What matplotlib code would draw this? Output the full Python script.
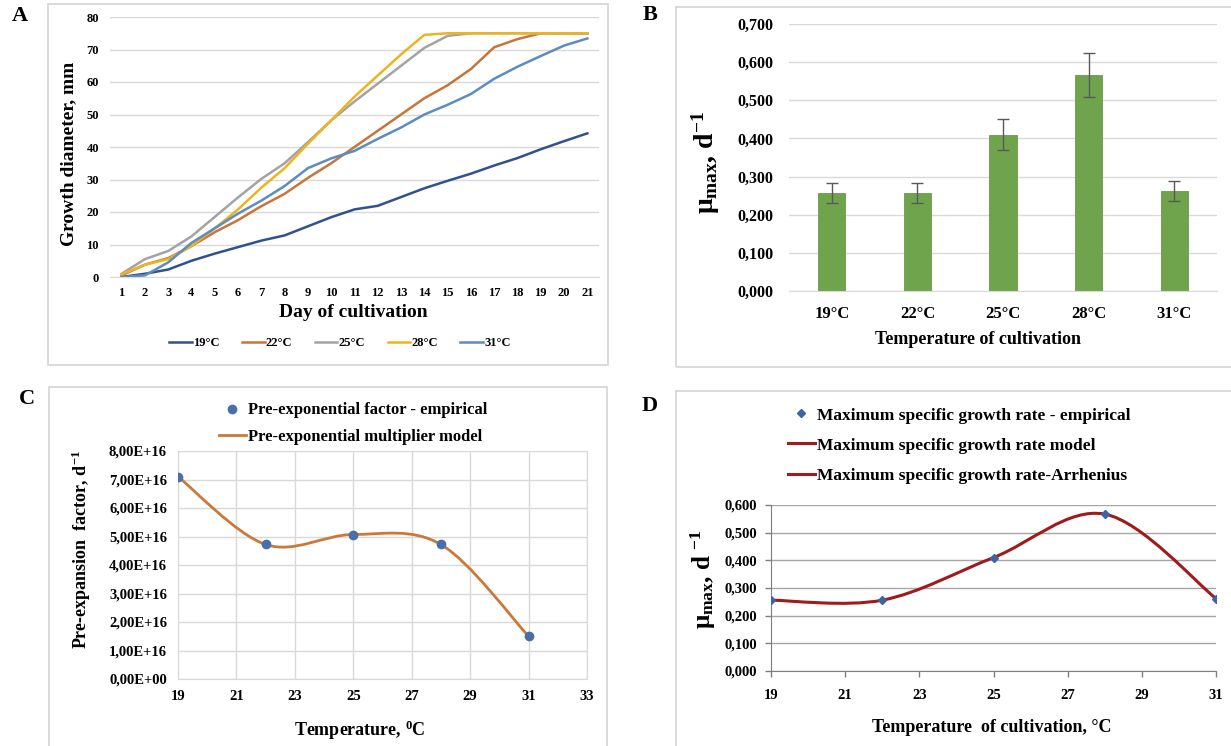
import numpy as np
import matplotlib
matplotlib.use('Agg')
import matplotlib.pyplot as plt
from matplotlib.path import Path
from matplotlib.patches import PathPatch, Rectangle
from matplotlib.lines import Line2D
from matplotlib.ticker import FuncFormatter, MultipleLocator

plt.rcParams['font.family'] = ['Liberation Serif', 'DejaVu Serif']
plt.rcParams['font.weight'] = 'bold'
plt.rcParams['mathtext.fontset'] = 'custom'
plt.rcParams['mathtext.rm'] = 'Liberation Serif:bold'
plt.rcParams['mathtext.it'] = 'Liberation Serif:bold'
plt.rcParams['mathtext.bf'] = 'Liberation Serif:bold'

# A: growth diameter by day
days = list(range(1, 22))
growth = {
    '19°C': [0, 1, 2.3, 5, 7.2, 9.2, 11.2, 12.8, 15.6, 18.4, 20.8, 21.9, 24.6, 27.3, 29.6, 31.8, 34.3, 36.6, 39.3, 41.8, 44.2],
    '22°C': [0.5, 3.8, 5.8, 9.5, 13.8, 17.5, 21.8, 25.6, 30.5, 35, 40, 45, 50, 55, 59, 64, 70.7, 73.2, 75, 75, 75],
    '25°C': [1, 5.5, 8, 12.5, 18.5, 24.5, 30.2, 35, 41.5, 48.2, 54, 59.5, 65, 70.5, 74.2, 75, 75, 75, 75, 75, 75],
    '28°C': [0.8, 3.8, 5.5, 9.5, 15, 20.8, 27.5, 33.5, 41, 48.2, 55.5, 62, 68.5, 74.5, 75, 75, 75, 75, 75, 75, 75],
    '31°C': [0, 0.5, 4.5, 10.5, 15, 19.5, 23.5, 28, 33.5, 36.5, 38.8, 42.5, 46, 50, 53, 56.3, 61, 64.7, 68, 71.2, 73.4],
}
growth_colors = ['#2F528F', '#C8743A', '#A3A3A3', '#EDB321', '#5B8DC0']

# B: mu max bars
temp_labels = ['19°C', '22°C', '25°C', '28°C', '31°C']
mu_max = [0.257, 0.257, 0.410, 0.567, 0.262]
mu_err = [0.026, 0.026, 0.041, 0.058, 0.027]

# C: pre-exponential factor
temps = [19, 22, 25, 28, 31]
pre_exp = [7.1e16, 4.72e16, 5.07e16, 4.72e16, 1.5e16]
c_ticks = [19, 21, 23, 25, 27, 29, 31, 33]

# D: mu max vs temperature
mu_emp = [0.256, 0.256, 0.410, 0.567, 0.262]
d_ticks = [19, 21, 23, 25, 27, 29, 31]

W, H = 1231, 746
fig = plt.figure(figsize=(W / 100, H / 100), dpi=100)


def place(l, t, r, b):
    return fig.add_axes([l / W, 1 - b / H, (r - l) / W, (b - t) / H])


def frame(l, t, r, b):
    fig.add_artist(Rectangle((l / W, 1 - b / H), (r - l) / W, (b - t) / H,
                             transform=fig.transFigure, fill=False,
                             edgecolor='#d4d4d4', lw=1.2))


def smooth(ax, xs, ys, **kw):
    # Excel-like smoothed line as cubic bezier segments
    p = np.column_stack([xs, ys]).astype(float)
    n = len(p)
    verts, codes = [tuple(p[0])], [Path.MOVETO]
    for i in range(n - 1):
        p0 = p[i - 1] if i > 0 else p[i]
        p3 = p[i + 2] if i + 2 < n else p[i + 1]
        c1 = p[i] + (p[i + 1] - p0) / 6
        c2 = p[i + 1] - (p3 - p[i]) / 6
        verts += [tuple(c1), tuple(c2), tuple(p[i + 1])]
        codes += [Path.CURVE4] * 3
    ax.add_patch(PathPatch(Path(verts, codes), fill=False, **kw))


def comma(fmt):
    return FuncFormatter(lambda v, pos: format(v, fmt).replace('.', ','))


def plain(ax):
    for s in ax.spines.values():
        s.set_visible(False)
    ax.tick_params(length=0)


def labels_at(ax, xl, yl):
    # xl: (center x, top y) of x label; yl: (right x, center y) of y label, in pixels
    ax.xaxis.set_label_coords(xl[0] / W, 1 - xl[1] / H, transform=fig.transFigure)
    ax.yaxis.set_label_coords(yl[0] / W, 1 - yl[1] / H, transform=fig.transFigure)


frame(48, 4, 608, 365)
frame(676, 7, 1240, 367)
frame(49, 387, 607, 760)
frame(676, 391, 1240, 760)

for txt, x, y in [('A', 20, 16), ('B', 650, 15), ('C', 27, 399), ('D', 650, 406)]:
    fig.text(x / W, 1 - y / H, txt, fontsize=16, fontweight='bold', ha='center', va='center')

# ---- A
ax = place(110, 17, 599, 277)
for (lab, vals), c in zip(growth.items(), growth_colors):
    ax.plot(days, vals, color=c, lw=1.8, label=lab)
ax.set_xlim(0.5, 21.5)
ax.set_ylim(0, 80)
ax.set_xticks(days)
ax.yaxis.set_major_locator(MultipleLocator(10))
ax.grid(axis='y', color='#d9d9d9', lw=1)
ax.set_axisbelow(True)
plain(ax)
ax.spines['bottom'].set_visible(True)
ax.spines['bottom'].set_color('#d9d9d9')
ax.tick_params(axis='y', labelsize=9, pad=8)
ax.tick_params(axis='x', labelsize=9, pad=7)
ax.set_xlabel('Day of cultivation', fontsize=14, fontweight='bold')
ax.set_ylabel('Growth diameter, mm', fontsize=14, fontweight='bold')
labels_at(ax, (353, 304), (77, 154))
ax.legend(loc='center', bbox_to_anchor=(340 / W, 1 - 343 / H), bbox_transform=fig.transFigure,
          ncol=5, frameon=False, fontsize=9, handlelength=1.8, handletextpad=0.1,
          columnspacing=1.8, borderpad=0)

# ---- B
ax = place(789, 24, 1217, 291)
xb = np.arange(len(temp_labels))
ax.bar(xb, mu_max, width=0.32, color='#70A44C', edgecolor='#6A9A48', lw=0.6,
       yerr=mu_err, error_kw=dict(ecolor='#595959', elinewidth=1, capsize=4, capthick=1))
ax.set_xlim(-0.5, 4.5)
ax.set_ylim(0, 0.7)
ax.set_xticks(xb, temp_labels)
ax.yaxis.set_major_locator(MultipleLocator(0.1))
ax.yaxis.set_major_formatter(comma('.3f'))
ax.grid(axis='y', color='#d9d9d9', lw=1)
ax.set_axisbelow(True)
plain(ax)
ax.spines['bottom'].set_visible(True)
ax.spines['bottom'].set_color('#d9d9d9')
ax.tick_params(axis='y', labelsize=11.5, pad=11)
ax.tick_params(axis='x', labelsize=12, pad=11)
ax.set_xlabel('Temperature of cultivation', fontsize=13, fontweight='bold')
ax.set_ylabel(r'$\mu_{max}$, d$^{-1}$', fontsize=20, fontweight='bold')
labels_at(ax, (978, 331), (722, 162))

# ---- C
ax = place(178, 451, 587, 679)
smooth(ax, temps, pre_exp, edgecolor='#C97A3A', lw=2, zorder=3)
ax.plot(temps, pre_exp, 'o', color='#4A6FA8', ms=6, zorder=4)
ax.set_xlim(19, 33)
ax.set_ylim(0, 8e16)
ax.set_xticks(c_ticks)
ax.yaxis.set_major_locator(MultipleLocator(1e16))
ax.yaxis.set_major_formatter(comma('.2E'))
ax.grid(True, color='#d9d9d9', lw=1)
ax.set_axisbelow(True)
for s in ax.spines.values():
    s.set_color('#d9d9d9')
ax.tick_params(length=0)
ax.tick_params(axis='y', labelsize=10.5, pad=8)
ax.tick_params(axis='x', labelsize=10.5, pad=8)
ax.set_xlabel('Temperature, $^{0}$C', fontsize=13, fontweight='bold')
ax.set_ylabel('Pre-expansion  factor, d$^{-1}$', fontsize=13, fontweight='bold')
labels_at(ax, (360, 719), (93, 549))
handles = [Line2D([], [], ls='none', marker='o', color='#4A6FA8', ms=6),
           Line2D([], [], color='#C97A3A', lw=2)]
ax.legend(handles, ['Pre-exponential factor - empirical', 'Pre-exponential multiplier model'],
          loc='center left', bbox_to_anchor=(219 / W, 1 - 423.5 / H), bbox_transform=fig.transFigure,
          frameon=False, fontsize=12, handlelength=1.6, handletextpad=0.15,
          labelspacing=0.62, borderpad=0, borderaxespad=0)

# ---- D
ax = place(771, 505, 1216, 671)
smooth(ax, temps, mu_emp, edgecolor='#A01C1C', lw=2.2, zorder=3)
smooth(ax, temps, mu_emp, edgecolor='#A01C1C', lw=1.2, zorder=3)
ax.plot(temps, mu_emp, 'D', color='#3E64A8', ms=4, zorder=4)
ax.set_xlim(19, 31)
ax.set_ylim(0, 0.6)
ax.set_xticks(d_ticks)
ax.yaxis.set_major_locator(MultipleLocator(0.1))
ax.yaxis.set_major_formatter(comma('.3f'))
ax.grid(axis='y', color='#a6a6a6', lw=1)
ax.set_axisbelow(True)
ax.spines['top'].set_visible(False)
ax.spines['right'].set_visible(False)
ax.spines['left'].set_color('#7f7f7f')
ax.spines['bottom'].set_color('#7f7f7f')
ax.tick_params(color='#7f7f7f', length=4, width=1)
ax.tick_params(axis='y', labelsize=10.5, pad=6)
ax.tick_params(axis='x', labelsize=10.5, pad=9)
ax.set_xlabel('Temperature  of cultivation, °C', fontsize=13, fontweight='bold')
ax.set_ylabel(r'$\mu_{max}$, d $^{-1}$', fontsize=18, fontweight='bold')
labels_at(ax, (992, 719), (718, 579))
handles = [Line2D([], [], ls='none', marker='D', color='#3E64A8', ms=4),
           Line2D([], [], color='#A01C1C', lw=2.2),
           Line2D([], [], color='#A01C1C', lw=2.2)]
ax.legend(handles, ['Maximum specific growth rate - empirical', 'Maximum specific growth rate model',
                    'Maximum specific growth rate-Arrhenius'],
          loc='center left', bbox_to_anchor=(788 / W, 1 - 445.5 / H), bbox_transform=fig.transFigure,
          frameon=False, fontsize=12.5, handlelength=1.55, handletextpad=0.1,
          labelspacing=0.8, borderpad=0, borderaxespad=0)

fig.savefig('out.png', dpi=100)
